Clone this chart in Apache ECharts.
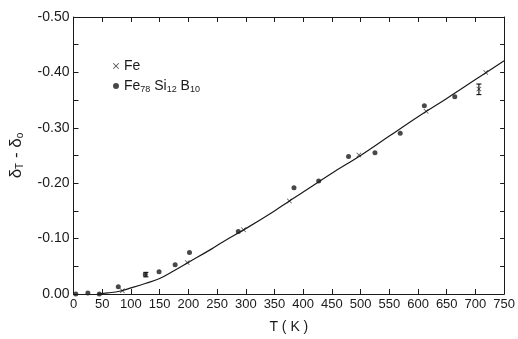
<!DOCTYPE html>
<html>
<head>
<meta charset="utf-8">
<script src="https://cdn.jsdelivr.net/npm/echarts@6/dist/echarts.min.js"></script>
<style>html,body{margin:0;padding:0;background:#fff;}#c{width:518px;height:339px;}</style>
</head>
<body>
<div id="c"></div>
<script>
// Fe (crosses)
var feT = [85, 198, 296, 376, 497, 614, 706, 718];
var feV = [0.006, 0.057, 0.116, 0.168, 0.251, 0.330, 0.370, 0.400];
// Fe78 Si12 B10 (dots)
var amT = [4, 25, 45, 78, 125, 149, 177, 202, 287, 384, 427, 479, 525, 569, 611, 664];
var amV = [0.000, 0.002, 0.000, 0.013, 0.035, 0.040, 0.053, 0.075, 0.113, 0.192, 0.204, 0.248, 0.255, 0.290, 0.340, 0.356];
// error bars
var errT = [126, 706];
var errLow = [0.031, 0.360];
var errHigh = [0.039, 0.379];
// fitted curve
var curveT = [42, 60, 80, 100, 125, 150, 175, 200, 240, 260, 300, 350, 376, 400, 450, 500, 550, 600, 650, 700, 750];
var curveV = [0.000, 0.002, 0.005, 0.011, 0.019, 0.028, 0.042, 0.057, 0.081, 0.094, 0.118, 0.150, 0.168, 0.184, 0.218, 0.250, 0.285, 0.320, 0.353, 0.387, 0.421];
var xTicks = {min: 0, max: 750, interval: 50};
var yTicks = {min: 0, max: 0.5, interval: 0.1};

function zip(a, b) { return a.map(function (v, i) { return [v, b[i]]; }); }

var FONT = '"Liberation Sans", "DejaVu Sans", sans-serif';
var INK = '#1a1a1a';
var crossPath = 'path://M0,1 L1,0 L5,4 L9,0 L10,1 L6,5 L10,9 L9,10 L5,6 L1,10 L0,9 L4,5 Z';

var chart = echarts.init(document.getElementById('c'));
var axisCommon = {
  axisLine: {show: true, onZero: false, lineStyle: {color: INK, width: 1}},
  splitLine: {show: false}
};
chart.setOption({
  animation: false,
  backgroundColor: '#fff',
  grid: {left: 69, right: 12, top: 17, bottom: 33, containLabel: false},
  legend: {
    data: [{name: 'Fe', icon: crossPath}, {name: 'FeSiB', icon: 'circle'}],
    orient: 'vertical', left: 108, top: 54,
    itemWidth: 6, itemHeight: 6, itemGap: 6,
    formatter: function (n) {
      return n === 'Fe' ? '{n|Fe}' : '{n|Fe}{s|78} {n|Si}{s|12} {n|B}{s|10}';
    },
    textStyle: {
      color: INK, fontFamily: FONT, fontSize: 14,
      rich: {
        n: {fontSize: 14, lineHeight: 16, fontFamily: FONT, color: INK},
        s: {fontSize: 9, lineHeight: 4, verticalAlign: 'bottom', fontFamily: FONT, color: INK}
      }
    }
  },
  xAxis: [
    Object.assign({
      type: 'value', position: 'bottom', min: xTicks.min, max: xTicks.max, interval: xTicks.interval,
      name: 'T ( K )', nameLocation: 'middle', nameGap: 26,
      nameTextStyle: {fontFamily: FONT, fontSize: 14, color: INK},
      axisTick: {show: true, inside: true, length: 5, lineStyle: {color: INK}},
      axisLabel: {show: true, margin: 4, fontFamily: FONT, fontSize: 13, color: INK}
    }, axisCommon),
    Object.assign({
      type: 'value', position: 'top', min: xTicks.min, max: xTicks.max, interval: xTicks.interval,
      axisTick: {show: true, inside: true, length: 5, lineStyle: {color: INK}},
      axisLabel: {show: false}
    }, axisCommon)
  ],
  yAxis: [
    Object.assign({
      type: 'value', position: 'left', min: yTicks.min, max: yTicks.max, interval: yTicks.interval,
      name: '{d|δ}{s|T}{d| - δ}{s|o}', nameLocation: 'middle', nameGap: 48, nameRotate: 90,
      nameTextStyle: {
        color: INK, fontFamily: FONT, fontSize: 17,
        rich: {
          d: {fontSize: 17, lineHeight: 18, fontFamily: FONT, color: INK},
          s: {fontSize: 10, lineHeight: 4, verticalAlign: 'bottom', fontFamily: FONT, color: INK}
        }
      },
      axisTick: {show: true, inside: true, length: 5, lineStyle: {color: INK}},
      minorTick: {show: true, splitNumber: 2, length: 5, lineStyle: {color: INK}},
      axisLabel: {
        show: true, margin: 4, fontFamily: FONT, fontSize: 14, color: INK,
        formatter: function (v) { return v === 0 ? '0.00' : '-' + v.toFixed(2); }
      }
    }, axisCommon),
    Object.assign({
      type: 'value', position: 'right', min: yTicks.min, max: yTicks.max, interval: yTicks.interval,
      axisTick: {show: true, inside: true, length: 4, lineStyle: {color: INK}},
      minorTick: {show: true, splitNumber: 2, length: 4, lineStyle: {color: INK}},
      axisLabel: {show: false}
    }, axisCommon)
  ],
  series: [
    {
      name: 'curve', type: 'line', smooth: 0.4, showSymbol: false, symbol: 'none',
      data: zip(curveT, curveV), lineStyle: {color: INK, width: 1.2}, z: 2, silent: true
    },
    {
      name: 'Fe', type: 'scatter', symbol: crossPath, symbolSize: 5,
      data: zip(feT, feV), itemStyle: {color: INK}, z: 3
    },
    {
      name: 'FeSiB', type: 'scatter', symbol: 'circle', symbolSize: 5,
      data: zip(amT, amV), itemStyle: {color: INK}, z: 3
    },
    {
      name: 'errbars', type: 'custom',
      data: errT.map(function (t, i) { return [t, errLow[i], errHigh[i]]; }),
      renderItem: function (params, api) {
        var lo = api.coord([api.value(0), api.value(1)]);
        var hi = api.coord([api.value(0), api.value(2)]);
        var w = 2.5;
        return {
          type: 'group',
          children: [
            {type: 'line', shape: {x1: lo[0], y1: lo[1], x2: hi[0], y2: hi[1]}, style: {stroke: INK, lineWidth: 1.2}},
            {type: 'line', shape: {x1: lo[0] - w, y1: lo[1], x2: lo[0] + w, y2: lo[1]}, style: {stroke: INK, lineWidth: 1.2}},
            {type: 'line', shape: {x1: hi[0] - w, y1: hi[1], x2: hi[0] + w, y2: hi[1]}, style: {stroke: INK, lineWidth: 1.2}}
          ]
        };
      },
      z: 3, silent: true
    }
  ]
});
</script>
</body>
</html>
